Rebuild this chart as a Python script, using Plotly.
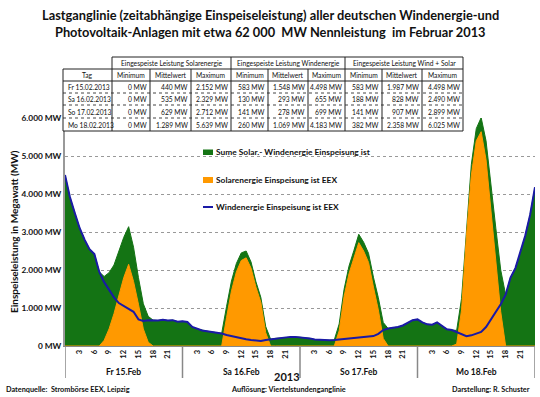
import plotly.graph_objects as go

# ---------------- data ----------------
hour_ticks = [3, 6, 9, 12, 15, 18, 21]
day_labels = ["Fr 15.Feb", "Sa 16.Feb", "So 17.Feb", "Mo 18.Feb"]

# hourly wind feed-in (MW), 15.02. 0:00 ... 19.02. 0:00
wind_fr = [4500, 3920, 3500, 3100, 2800, 2550, 2420, 1950, 1680, 1480, 1280, 1130,
           1060, 990, 900, 700, 660, 680, 680, 670, 690, 670, 680, 640]
wind_sa = [650, 630, 500, 450, 410, 390, 370, 350, 330, 290, 260, 220,
           200, 180, 160, 140, 130, 160, 180, 200, 210, 230, 240, 240]
wind_so = [230, 220, 200, 170, 160, 150, 150, 160, 180, 190, 200, 210,
           220, 230, 240, 260, 320, 420, 460, 480, 500, 540, 600, 680]
wind_mo = [700, 620, 570, 560, 620, 520, 440, 420, 360, 300, 260, 280,
           320, 370, 500, 700, 900, 1100, 1350, 1800, 2050, 2450, 2900, 3450]
wind_end = [4180]

# hourly solar feed-in (MW)
solar_fr = [0, 0, 0, 0, 0, 0, 0, 0, 150, 450, 850, 1350,
            1800, 2150, 1700, 1100, 450, 100, 0, 0, 0, 0, 0, 0]
solar_sa = [0, 0, 0, 0, 0, 0, 0, 0, 0, 750, 1450, 1950,
            2250, 2320, 2050, 1550, 1150, 350, 0, 0, 0, 0, 0, 0]
solar_so = [0, 0, 0, 0, 0, 0, 0, 0, 400, 1300, 1900, 2300,
            2720, 2500, 2200, 1550, 950, 200, 0, 0, 0, 0, 0, 0]
solar_mo = [0, 0, 0, 0, 0, 0, 0, 0, 50, 950, 2900, 4500,
            5400, 5640, 4900, 3500, 2200, 900, 0, 0, 0, 0, 0, 0]
solar_end = [0]

wind_mw = wind_fr + wind_sa + wind_so + wind_mo + wind_end
solar_mw = solar_fr + solar_sa + solar_so + solar_mo + solar_end
total_mw = [w + s for w, s in zip(wind_mw, solar_mw)]
hours = list(range(len(wind_mw)))

y_ticks = [0, 1000, 2000, 3000, 4000, 5000, 6000]
y_ticktext = ["0 MW", "1.000 MW", "2.000 MW", "3.000 MW", "4.000 MW", "5.000 MW", "6.000 MW"]

series_names = ["Sume Solar.- Windenergie Einspeisung ist",
                "Solarenergie Einspeisung ist EEX",
                "Windenergie Einspeisung ist EEX"]

# table content
tbl_groups = ["Eingespeiste Leistung Solarenergie", "Eingespeiste Leistung Windenergie",
              "Eingespeiste Leistung Wind + Solar"]
tbl_sub = ["Tag", "Minimum", "Mittelwert", "Maximum", "Minimum", "Mittelwert", "Maximum",
           "Minimum", "Mittelwert", "Maximum"]
tbl_days = ["Fr 15.02.2013", "Sa 16.02.2013", "So 17.02.2013", "Mo 18.02.2013"]
solar_min = ["0 MW", "0 MW", "0 MW", "0 MW"]
solar_mean = ["440 MW", "535 MW", "629 MW", "1.289 MW"]
solar_max = ["2.152 MW", "2.329 MW", "2.712 MW", "5.639 MW"]
wind_min = ["583 MW", "130 MW", "141 MW", "260 MW"]
wind_mean = ["1.548 MW", "293 MW", "278 MW", "1.069 MW"]
wind_max = ["4.498 MW", "655 MW", "699 MW", "4.183 MW"]
both_min = ["583 MW", "188 MW", "141 MW", "382 MW"]
both_mean = ["1.987 MW", "828 MW", "907 MW", "2.358 MW"]
both_max = ["4.498 MW", "2.490 MW", "2.899 MW", "6.025 MW"]

# ---------------- layout helpers ----------------
W, H = 540, 397
L, R, T, B = 65, 535, 118, 346
FONT = "Lato, 'Open Sans', sans-serif"
TXT = "#111"


def fx(px):
    return (px - L) / (R - L)


def fy(py):
    return (B - py) / (B - T)


GREEN = "#147414"
ORANGE = "#FF9900"
BLUE = "#1a1aa6"

fig = go.Figure()
fig.add_trace(go.Scatter(x=hours, y=total_mw, mode="lines", fill="tozeroy",
                         line=dict(color=GREEN, width=1), fillcolor=GREEN,
                         name=series_names[0], showlegend=False))
fig.add_trace(go.Scatter(x=hours, y=solar_mw, mode="lines", fill="tozeroy",
                         line=dict(color=ORANGE, width=1), fillcolor=ORANGE,
                         name=series_names[1], showlegend=False))
fig.add_trace(go.Scatter(x=hours, y=wind_mw, mode="lines",
                         line=dict(color=BLUE, width=2),
                         name=series_names[2], showlegend=False))

tickvals = [d * 24 + h for d in range(len(day_labels)) for h in hour_ticks]
ticktext = [str(h) for d in range(len(day_labels)) for h in hour_ticks]

shapes = []
annotations = []


def text(s, px, py, size, anchor="center", angle=0, family=FONT):
    annotations.append(dict(text=s, xref="paper", yref="paper", x=fx(px), y=fy(py),
                            xanchor=anchor, yanchor="middle", showarrow=False,
                            textangle=angle, font=dict(family=family, size=size, color=TXT)))


# day separators below the axis
for d in range(len(day_labels) + 1):
    shapes.append(dict(type="line", xref="x", yref="paper", x0=d * 24, x1=d * 24,
                       y0=0, y1=fy(378), line=dict(color="#888", width=1.5)))
for d, lab in enumerate(day_labels):
    annotations.append(dict(text="<b>%s</b>" % lab, xref="x", yref="paper", x=d * 24 + 12,
                            y=fy(372), xanchor="center", yanchor="middle", showarrow=False,
                            font=dict(family=FONT, size=8.5, color=TXT)))

# manual legend
leg_y = [152, 180, 207]
shapes.append(dict(type="rect", xref="paper", yref="paper", x0=fx(203), x1=fx(213),
                   y0=fy(149.5), y1=fy(155), fillcolor=GREEN, line=dict(width=0)))
shapes.append(dict(type="rect", xref="paper", yref="paper", x0=fx(203), x1=fx(213),
                   y0=fy(177), y1=fy(183), fillcolor=ORANGE, line=dict(width=0)))
shapes.append(dict(type="line", xref="paper", yref="paper", x0=fx(203), x1=fx(213),
                   y0=fy(207), y1=fy(207), line=dict(color=BLUE, width=2)))
for name, ly in zip(series_names, leg_y):
    text("<b>%s</b>" % name, 213.5, ly, 8.4, anchor="left")

# table
col_edges = [63, 112, 150, 191, 231, 268, 308, 345, 382, 422, 463]
row_edges = [57, 69, 81, 93, 105, 118, 131]
shapes.append(dict(type="rect", xref="paper", yref="paper", x0=fx(112), x1=fx(463),
                   y0=fy(57), y1=fy(69), fillcolor="white", line=dict(width=0)))
shapes.append(dict(type="rect", xref="paper", yref="paper", x0=fx(63), x1=fx(463),
                   y0=fy(69), y1=fy(131), fillcolor="white", line=dict(width=0)))


def hline(y, x0, x1, dash="solid", color="#222"):
    shapes.append(dict(type="line", xref="paper", yref="paper", x0=fx(x0), x1=fx(x1),
                       y0=fy(y), y1=fy(y), line=dict(color=color, width=1, dash=dash)))


def vline(x, y0, y1):
    shapes.append(dict(type="line", xref="paper", yref="paper", x0=fx(x), x1=fx(x),
                       y0=fy(y0), y1=fy(y1), line=dict(color="#222", width=1)))


hline(57, 112, 463)
hline(69, 63, 463)
hline(81, 63, 463)
for y in row_edges[3:6]:
    hline(y, 63, 463, dash="dot", color="#444")
hline(131, 63, 463)
for x in [112, 231, 345, 463]:
    vline(x, 57, 131)
for x in [63, 150, 191, 268, 308, 382, 422]:
    vline(x, 69, 131)

TS = 6.7
for i, g in enumerate(tbl_groups):
    x0, x1 = col_edges[1 + 3 * i], col_edges[4 + 3 * i]
    text(g, (x0 + x1) / 2, (row_edges[0] + row_edges[1]) / 2, TS)
for i, s in enumerate(tbl_sub):
    x0, x1 = col_edges[i], col_edges[i + 1]
    text(s, (x0 + x1) / 2, (row_edges[1] + row_edges[2]) / 2, TS)
columns = [solar_min, solar_mean, solar_max, wind_min, wind_mean, wind_max,
           both_min, both_mean, both_max]
for r, day in enumerate(tbl_days):
    yc = (row_edges[2 + r] + row_edges[3 + r]) / 2
    text(day, 65.5, yc, TS, anchor="left")
    for c, col in enumerate(columns):
        text(col[r], col_edges[c + 2] - 1.5, yc, TS, anchor="right")

# titles and footers
text("<b>Lastganglinie (zeitabhängige Einspeiseleistung) aller deutschen Windenergie-und</b>",
     270, 15, 12.8)
text("<b>Photovoltaik-Anlagen mit etwa 62 000  MW Nennleistung  im Februar 2013</b>",
     270, 32, 12.8)
text("<b>Einspeiseleistung in Megawatt (MW)</b>", 14, 232, 10, angle=-90)
text("<b>2013</b>", 287, 376, 11)
text("<b>Datenquelle:  Strombörse EEX, Leipzig</b>", 4, 389, 7.3, anchor="left")
text("<b>Auflösung: Viertelstundenganglinie</b>", 229, 389, 7.3, anchor="left")
text("<b>Darstellung: R. Schuster</b>", 450, 389, 7.3, anchor="left")

fig.update_layout(
    width=W, height=H,
    margin=dict(l=L, r=W - R, t=T, b=H - B),
    paper_bgcolor="white", plot_bgcolor="white",
    showlegend=False,
    xaxis=dict(range=[0, 96], tickmode="array", tickvals=tickvals, ticktext=ticktext,
               tickangle=-90, tickfont=dict(family=FONT, size=7.5, color=TXT, weight="bold"),
               showgrid=False, zeroline=False, showline=True, linecolor="#888", linewidth=1,
               ticks="", automargin=False),
    yaxis=dict(range=[0, 6000], tickmode="array", tickvals=y_ticks, ticktext=y_ticktext,
               tickfont=dict(family=FONT, size=8.3, color=TXT, weight="bold"),
               showgrid=True, gridcolor="#999", griddash="dot", gridwidth=1,
               zeroline=False, showline=True, linecolor="#999", linewidth=2, ticks="",
               automargin=False),
    shapes=shapes,
    annotations=annotations,
)

fig.write_html("out.html", config={"displayModeBar": False},
               post_script="document.body.style.margin='0';document.body.style.padding='0';")
